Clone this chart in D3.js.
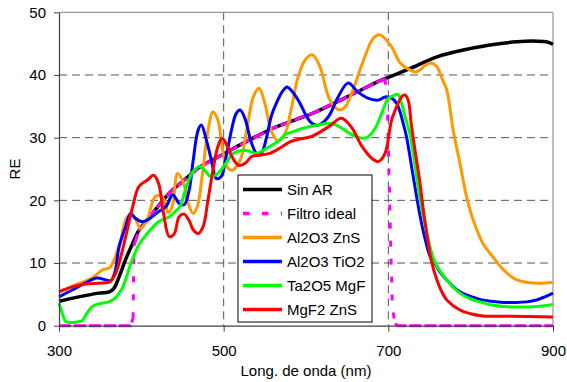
<!DOCTYPE html>
<html>
<head>
<meta charset="utf-8">
<script src="https://cdn.jsdelivr.net/npm/d3@7"></script>
<style>
  html, body { margin: 0; padding: 0; background: #fff; }
  svg text { font-family: Arial, "Liberation Sans", sans-serif; font-size: 15px; fill: #000; }
</style>
</head>
<body>
<svg id="chart" width="567" height="382"></svg>
<script>
// Reflectance (RE) versus wavelength (nm), pairs of [nm, RE]
const sinAR = [[300,3.9],[324,4.6],[348,5.2],[361,5.4],[367,6.0],[373,7.8],[381,10.6],[389,13.0],[397,15.2],[410,17.3],[420,19.0],[435,21.3],[450,23.0],[471,25.3],[500,27.4],[528,29.4],[560,31.5],[590,33.0],[610,34.0],[650,36.5],[690,39.1],[700,39.6],[726,41.0],[759,42.9],[799,44.2],[830,44.9],[856,45.3],[880,45.4],[892,45.3],[900,44.9]];

const filtroIdeal = [[300,0],[387,0],[389,0.8],[390,1.2],[391,12.8],[397,15.2],[410,17.3],[420,19.0],[435,21.3],[450,23.0],[471,25.3],[500,27.4],[528,29.4],[560,31.5],[590,33.0],[610,34.0],[650,36.5],[690,39.1],[696,39.4],[699,35],[703,12],[705,3],[708,0.3],[712,0],[900,0]];

const al2o3ZnS = [[300,5.4],[320,6.5],[340,7.6],[353,8.9],[361,9.2],[367,10.5],[375,13.7],[383,17.4],[391,17.4],[399,15.5],[407,16.9],[417,20.6],[425,20.6],[433,18.0],[438,19.3],[444,24.3],[451,22.8],[457,19.5],[463,17.9],[468,19.0],[474,24.0],[481,31.2],[487,34.1],[493,32.8],[498,28.6],[504,25.4],[510,24.8],[520,26.4],[528,31.2],[536,36.5],[543,37.9],[550,35.5],[558,31.0],[566,29.5],[574,30.5],[582,34.5],[590,39.5],[599,42.4],[608,43.2],[617,41.3],[629,36.0],[641,34.4],[648,35.0],[657,37.6],[670,42.4],[682,45.9],[690,46.4],[704,44.5],[714,42.0],[726,40.8],[734,40.5],[745,41.5],[751,41.9],[759,41.3],[765,39.5],[771,37.6],[779,31.0],[787,25.9],[795,20.6],[803,16.9],[815,13.1],[827,11.0],[840,8.9],[856,7.3],[876,6.8],[900,6.9]];

const al2o3TiO2 = [[300,4.6],[316,5.7],[332,6.8],[346,7.6],[357,7.3],[363,7.2],[368,8.6],[373,12.6],[381,15.8],[387,17.9],[393,17.1],[401,16.6],[409,17.0],[421,18.2],[430,19.0],[438,20.9],[446,19.5],[452,19.3],[458,21.6],[463,26.4],[469,31.2],[473,32.0],[479,29.6],[485,26.5],[491,23.5],[497,23.8],[503,27.0],[510,31.5],[515,33.8],[520,34.4],[526,33.0],[533,29.5],[540,27.5],[546,27.6],[552,30.0],[558,33.5],[564,35.5],[571,37.3],[577,38.1],[583,37.4],[589,36.3],[595,34.9],[601,33.3],[607,32.3],[615,32.0],[627,33.3],[639,36.5],[651,38.7],[663,37.3],[675,36.3],[688,36.0],[696,36.5],[704,36.3],[710,35.5],[714,34.2],[718,32.3],[722,30.2],[730,24.0],[738,17.9],[744,14.2],[751,11.0],[755,10.3],[763,8.5],[771,7.3],[779,6.2],[787,5.4],[799,4.7],[811,4.2],[825,3.9],[840,3.7],[855,3.7],[868,3.8],[880,4.1],[888,4.5],[900,5.2]];

const ta2o5MgF = [[300,3.6],[304,2.0],[308,0.7],[315,0.5],[322,0.6],[328,0.8],[334,2.0],[340,3.0],[346,3.4],[353,3.6],[362,3.9],[368,4.4],[372,5.0],[377,6.0],[382,7.8],[387,9.8],[392,11.5],[397,12.9],[409,15.0],[421,16.6],[434,17.4],[442,18.3],[447,19.0],[452,21.0],[456,22.7],[463,24.6],[471,25.4],[477,24.8],[484,23.8],[492,24.2],[500,25.4],[512,27.5],[524,28.0],[532,27.8],[540,27.5],[552,28.3],[560,28.9],[568,29.6],[575,30.5],[581,30.8],[599,31.6],[615,32.0],[627,32.3],[637,32.0],[647,31.2],[657,30.4],[668,29.9],[676,30.2],[684,31.5],[692,33.9],[700,36.3],[708,36.8],[712,36.9],[716,35.5],[720,33.5],[726,30.7],[732,26.0],[738,20.6],[748,14.0],[756,10.3],[764,8.5],[771,7.3],[779,6.1],[787,5.2],[799,4.3],[811,3.8],[825,3.3],[848,3.0],[872,3.0],[890,3.2],[900,3.4]];

const mgF2ZnS = [[300,5.4],[316,6.2],[332,6.65],[352,6.8],[362,7.0],[369,8.4],[375,11.0],[381,14.2],[389,18.7],[397,22.2],[407,23.2],[415,24.0],[421,22.7],[427,17.9],[434,14.2],[440,14.7],[446,17.4],[452,17.8],[458,16.8],[463,15.3],[469,14.7],[475,15.8],[481,20.1],[487,24.8],[493,28.6],[498,29.9],[504,28.8],[510,27.0],[518,25.6],[526,25.9],[534,27.0],[544,27.2],[556,27.5],[568,28.3],[580,29.3],[590,29.7],[607,30.2],[627,31.7],[643,33.1],[655,31.7],[668,28.6],[680,26.7],[688,26.2],[696,27.5],[704,32.8],[712,35.5],[716,36.5],[720,36.8],[724,36.0],[728,32.0],[733,27.5],[738,23.2],[742,19.0],[746,15.3],[752,10.5],[759,7.3],[765,5.4],[771,4.1],[787,2.5],[800,1.9],[815,1.55],[848,1.5],[900,1.4]];

const xTicks = [300, 500, 700, 900];
const yTicks = [0, 10, 20, 30, 40, 50];
const xGrid = [500, 700];
const yGrid = [10, 20, 30, 40];

const series = [
  { name: "Sin AR",       data: sinAR,       color: "#000000", width: 3.5 },
  { name: "Filtro ideal", data: filtroIdeal, color: "#FF00FF", width: 3, dashed: true },
  { name: "Al2O3 ZnS",    data: al2o3ZnS,    color: "#FF9900", width: 3 },
  { name: "Al2O3 TiO2",   data: al2o3TiO2,   color: "#0000FF", width: 3 },
  { name: "Ta2O5 MgF",    data: ta2o5MgF,    color: "#00FF00", width: 3 },
  { name: "MgF2 ZnS",     data: mgF2ZnS,     color: "#FF0000", width: 3 }
];

const svg = d3.select("#chart");
svg.append("rect").attr("width", 567).attr("height", 382).attr("fill", "#fff");

const plot = { left: 59, right: 553, top: 12.3, bottom: 325.7 };
const x = d3.scaleLinear().domain([300, 900]).range([plot.left, plot.right]);
const y = d3.scaleLinear().domain([0, 50]).range([plot.bottom, plot.top]);

// dashed grid
const grid = svg.append("g").attr("stroke", "#555").attr("stroke-width", 1).attr("stroke-dasharray", "8,5");
grid.selectAll("line.h").data(yGrid).join("line")
  .attr("x1", plot.left).attr("x2", plot.right)
  .attr("y1", d => y(d)).attr("y2", d => y(d));
grid.selectAll("line.v").data(xGrid).join("line")
  .attr("y1", plot.top).attr("y2", plot.bottom)
  .attr("x1", d => x(d)).attr("x2", d => x(d));

// frame on top and right
svg.append("path")
  .attr("d", `M${plot.left},${plot.top}H${plot.right}V${plot.bottom}`)
  .attr("fill", "none").attr("stroke", "#808080").attr("stroke-width", 1);

// curves
const smooth = d3.line().x(d => x(d[0])).y(d => y(d[1])).curve(d3.curveCatmullRom.alpha(0.5));
const straight = d3.line().x(d => x(d[0])).y(d => y(d[1]));

// split a polyline into runs of steep jumps and gentle stretches
function runs(data) {
  const out = [];
  let cur = null;
  for (let i = 1; i < data.length; i++) {
    const a = data[i - 1], b = data[i];
    const dxp = Math.abs(x(b[0]) - x(a[0]));
    const dyp = Math.abs(y(b[1]) - y(a[1]));
    const steep = dyp > 4 * dxp;
    if (!cur || cur.steep !== steep) { cur = { steep, pts: [a] }; out.push(cur); }
    cur.pts.push(b);
  }
  return out;
}

const curves = svg.append("g").attr("fill", "none");
series.forEach(s => {
  if (s.dashed) {
    runs(s.data).forEach(r => {
      curves.append("path")
        .attr("d", straight(r.pts))
        .attr("stroke", s.color).attr("stroke-width", s.width)
        .attr("stroke-dasharray", r.steep ? "6,12" : "12,3");
    });
  } else {
    curves.append("path")
      .attr("d", smooth(s.data))
      .attr("stroke", s.color).attr("stroke-width", s.width)
      .attr("stroke-linejoin", "round");
  }
});

// axes
const yAxis = d3.axisLeft(y).tickValues(yTicks).tickSize(5).tickSizeOuter(0).tickPadding(8);
const gy = svg.append("g").attr("transform", `translate(${plot.left},0)`).call(yAxis);
const xAxis = d3.axisBottom(x).tickValues(xTicks).tickSize(6).tickSizeOuter(0).tickPadding(14);
const gx = svg.append("g").attr("transform", `translate(0,${plot.bottom})`).call(xAxis);
[gx, gy].forEach(g => {
  g.select(".domain").attr("stroke", "#404040").attr("stroke-width", 1.2);
  g.selectAll(".tick line").attr("stroke", "#404040");
  g.selectAll("text").attr("font-size", null).attr("font-family", null).attr("fill", "#000");
});
gx.attr("font-size", null).attr("font-family", null);
gy.attr("font-size", null).attr("font-family", null);

// axis titles
svg.append("text").attr("x", (plot.left + plot.right) / 2).attr("y", 376)
  .attr("text-anchor", "middle").text("Long. de onda (nm)");
svg.append("text").attr("transform", "translate(20,169) rotate(-90)")
  .attr("text-anchor", "middle").text("RE");

// legend
const lg = svg.append("g").attr("transform", "translate(238,175)");
lg.append("rect").attr("width", 134).attr("height", 147)
  .attr("fill", "#fff").attr("stroke", "#000").attr("stroke-width", 1);
series.forEach((s, i) => {
  const yy = 14.5 + i * 24;
  lg.append("line").attr("x1", 5).attr("x2", 44).attr("y1", yy).attr("y2", yy)
    .attr("stroke", s.color).attr("stroke-width", s.dashed ? 3.5 : 3.5)
    .attr("stroke-dasharray", s.dashed ? "6.5,12.5" : null);
  lg.append("text").attr("x", 49).attr("y", yy).attr("dy", "0.35em").text(s.name);
});
</script>
</body>
</html>
